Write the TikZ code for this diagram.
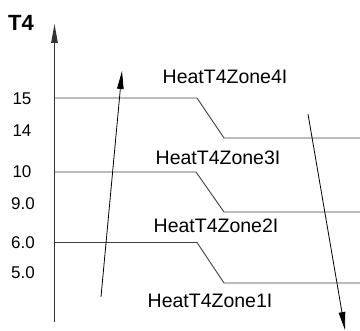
\documentclass[tikz,border=0pt]{standalone}
\usepackage{fontspec}
\setmainfont{Liberation Sans}
\usetikzlibrary{arrows.meta}
\begin{document}
\begin{tikzpicture}[x=1pt,y=-1pt,
  ticklab/.style={font=\fontsize{17}{17}\selectfont,anchor=center,inner sep=0pt},
  zonelab/.style={font=\fontsize{19.5}{19.5}\selectfont,anchor=center,inner sep=0pt},
  stepline/.style={draw=black!75,line width=0.9pt},
  bigarrow/.style={draw=black,line width=0.8pt,-{Triangle[length=18pt,width=6.5pt]}},
  axisline/.style={draw=black!80,line width=1pt,-{Triangle[length=19pt,width=6.5pt]}}]
\useasboundingbox (0,0) rectangle (360,331);
% axis
\coordinate (axbot) at (54.5,322);
\coordinate (axtop) at (54.5,24);
\draw[axisline] (axbot) -- (axtop);
\node[font=\bfseries\fontsize{22}{22}\selectfont,inner sep=0pt] (t4) at (21,23) {T4};
% tick labels
\node[ticklab] (l15) at (22,99) {15};
\node[ticklab] (l14) at (22,131) {14};
\node[ticklab] (l10) at (22,172) {10};
\node[ticklab] (l9) at (23,204) {9.0};
\node[ticklab] (l6) at (23,243) {6.0};
\node[ticklab] (l5) at (23,273) {5.0};
% step lines
\coordinate (a0) at (54.5,98); \coordinate (a1) at (197,98);
\coordinate (a2) at (224,138); \coordinate (a3) at (360,138);
\coordinate (b0) at (54.5,172); \coordinate (b1) at (196,172);
\coordinate (b2) at (224,212); \coordinate (b3) at (360,212);
\coordinate (c0) at (54.5,242.5); \coordinate (c1) at (197,242.5);
\coordinate (c2) at (224,283); \coordinate (c3) at (360,283);
\draw[stepline] (a0) -- (a1) -- (a2) -- (a3);
\draw[stepline] (b0) -- (b1) -- (b2) -- (b3);
\draw[stepline] (c0) -- (c1) -- (c2) -- (c3);
% zone labels
\node[zonelab] (z4) at (225,77) {HeatT4Zone4I};
\node[zonelab] (z3) at (218,158) {HeatT4Zone3I};
\node[zonelab] (z2) at (216,226) {HeatT4Zone2I};
\node[zonelab] (z1) at (210,301) {HeatT4Zone1I};
% arrows
\coordinate (up0) at (101,297); \coordinate (up1) at (122,71);
\draw[bigarrow] (up0) -- (up1);
\coordinate (dn0) at (308,114); \coordinate (dn1) at (345,330);
\draw[bigarrow] (dn0) -- (dn1);
\end{tikzpicture}
\end{document}
